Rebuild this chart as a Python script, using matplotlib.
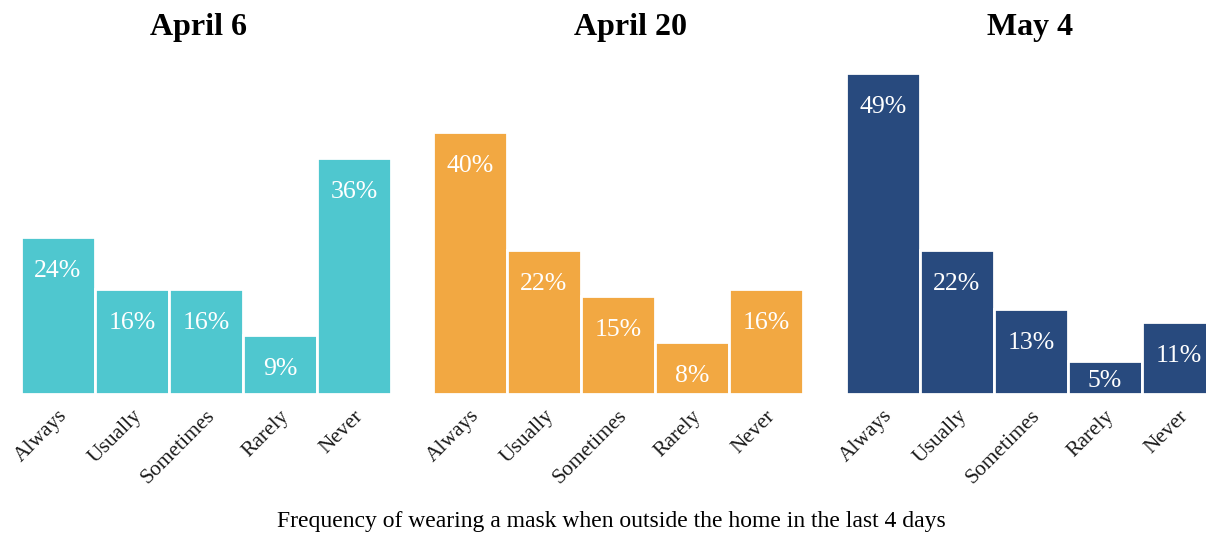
import matplotlib
matplotlib.use("Agg")
import matplotlib.pyplot as plt  # noqa: E402

plt.rcParams["font.family"] = ["Liberation Serif", "DejaVu Serif"]

CATEGORIES = ["Always", "Usually", "Sometimes", "Rarely", "Never"]
DATES = ["April 6", "April 20", "May 4"]
APRIL_6 = [24, 16, 16, 9, 36]
APRIL_20 = [40, 22, 15, 8, 16]
MAY_4 = [49, 22, 13, 5, 11]
COLORS = ["#4fc7cf", "#f2a842", "#284a7e"]

W, H = 1206, 534
fig = plt.figure(figsize=(W / 100, H / 100), dpi=100)

# panel left edges in pixels; each panel 370 px wide, baseline at y=394
lefts = [21, 433, 846]
title_x = [199, 631, 1030]
base_y, px_per_pct = 394, 6.55
ymax = 50
for left, tx, date, vals, col in zip(lefts, title_x, DATES, [APRIL_6, APRIL_20, MAY_4], COLORS):
    ax = fig.add_axes([left / W, (H - base_y) / H, 370 / W, ymax * px_per_pct / H])
    x = range(len(CATEGORIES))
    bars = ax.bar(x, vals, width=1.0, color=col, edgecolor="white", linewidth=2)
    for b, v in zip(bars, vals):
        # label sits ~30 px below the bar top, but never below the bottom of short bars
        ly = max(v - 34 / px_per_pct, 13 / px_per_pct)
        ax.text(b.get_x() + b.get_width() / 2, ly, f"{v}%", ha="center", va="center",
                color="white", fontsize=18.5)
    ax.set_xlim(-0.5, 4.5)
    ax.set_ylim(0, ymax)
    ax.set_xticks(list(x))
    ax.set_xticklabels(CATEGORIES, rotation=45, ha="right", va="top",
                       rotation_mode="anchor", fontsize=15.5, color="#1a1a1a")
    ax.tick_params(axis="x", length=0, pad=9)
    ax.set_yticks([])
    for s in ax.spines.values():
        s.set_visible(False)
    fig.text(tx / W, 1 - 28 / H, date, ha="center", va="center",
             fontsize=23, fontweight="bold")

fig.text(611 / W, 1 - 521 / H, "Frequency of wearing a mask when outside the home in the last 4 days",
         ha="center", va="center", fontsize=17)

fig.savefig("out.png", dpi=100)
